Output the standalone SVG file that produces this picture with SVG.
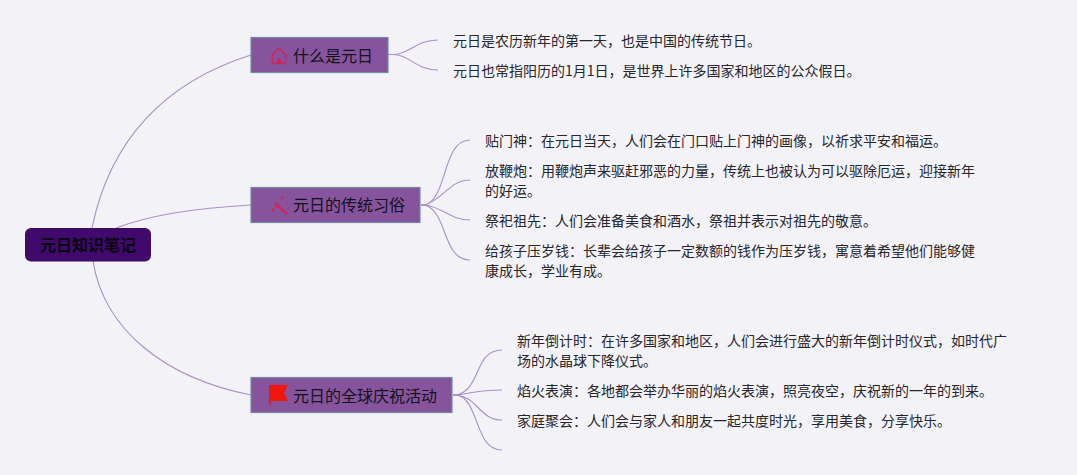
<svg xmlns="http://www.w3.org/2000/svg" width="1077" height="475" viewBox="0 0 1077 475">
<style>
text{font-family:"Noto Sans CJK SC","Liberation Sans",sans-serif;fill:#26262c}
.leaf{font-size:14px}
.branch{font-size:16px;fill:#14101c}
.root{font-size:16px;font-weight:700;fill:#0a0410}
.b{fill:#85549d;stroke:#6f8fa0;stroke-width:1.2}
.c{fill:none;stroke:#a98fca;stroke-width:1.1}
.ic{fill:#d5205a}
</style>
<rect width="1077" height="475" fill="#f3f2f6"/>
<g id="connectors">
<path class="c" d="M92 228C110 140 165 82 251 55"/>
<path class="c" d="M116 228C150 215 195 208 251 205"/>
<path class="c" d="M93 261C104 330 165 378 251 395"/>
<path class="c" d="M388 54.500H394C410 54 416 40 438 40"/>
<path class="c" d="M388 54.500H394C410 55 416 70 438 70"/>
<path class="c" d="M421 205H425C448 198 442 140 470 140"/>
<path class="c" d="M421 205H425C445 198 450 180 470 180"/>
<path class="c" d="M421 205H425C445 208 450 220 470 220"/>
<path class="c" d="M421 205H425C448 212 442 260 470 260"/>
<path class="c" d="M453 395H457C482 388 474 350 502 350"/>
<path class="c" d="M453 395H457C476 392 482 390 502 390"/>
<path class="c" d="M453 395H457C478 398 480 420 502 420"/>
<path class="c" d="M453 395H457C480 400 474 450 502 450"/>
</g>
<g id="root">
<rect x="25" y="228" width="126" height="33.500" rx="6" fill="#3f0a6b"/>
<text class="root" x="40" y="251">元日知识笔记</text>
</g>
<g id="branch-1">
<rect class="b" x="251" y="37.500" width="137" height="35"/>
<path d="M271 56.500L279 48L287 56.500M272.500 55V62.500Q272.500 63.500 274 63.500H284Q285.500 63.500 285.500 62.500V55" fill="none" stroke="#d5205a" stroke-width="1.300"/>
<path class="ic" d="M277 63.500V60L279 57.500L281 60V63.500Z"/>
<text class="branch" x="293" y="62">什么是元日</text>
</g>
<g id="branch-2">
<rect class="b" x="251" y="187.500" width="169" height="35"/>
<path d="M275 203L287 214" fill="none" stroke="#d5205a" stroke-width="2.200"/>
<circle class="ic" cx="282" cy="198" r="1.500"/><circle class="ic" cx="273" cy="210" r="1.700"/><circle class="ic" cx="276" cy="207" r="1"/><circle class="ic" cx="287" cy="204" r="0.800"/>
<text class="branch" x="293" y="211">元日的传统习俗</text>
</g>
<g id="branch-3">
<rect class="b" x="251" y="377.500" width="201" height="35"/>
<path d="M269 385H288L284 393L288 401H270.500V406L269 405Z" fill="#f0170f"/>
<text class="branch" x="293" y="402">元日的全球庆祝活动</text>
</g>
<g id="leaf-1-1"><text class="leaf" x="453" y="46">元日是农历新年的第一天&#xFF0C;也是中国的传统节日。</text></g>
<g id="leaf-1-2"><text class="leaf" x="453" y="76">元日也常指阳历的1月1日&#xFF0C;是世界上许多国家和地区的公众假日。</text></g>
<g id="leaf-2-1"><text class="leaf" x="485" y="146">贴门神&#xFF1A;在元日当天&#xFF0C;人们会在门口贴上门神的画像&#xFF0C;以祈求平安和福运。</text></g>
<g id="leaf-2-2"><text class="leaf" x="485" y="176">放鞭炮&#xFF1A;用鞭炮声来驱赶邪恶的力量&#xFF0C;传统上也被认为可以驱除厄运&#xFF0C;迎接新年</text><text class="leaf" x="485" y="196">的好运。</text></g>
<g id="leaf-2-3"><text class="leaf" x="485" y="226">祭祀祖先&#xFF1A;人们会准备美食和酒水&#xFF0C;祭祖并表示对祖先的敬意。</text></g>
<g id="leaf-2-4"><text class="leaf" x="485" y="256">给孩子压岁钱&#xFF1A;长辈会给孩子一定数额的钱作为压岁钱&#xFF0C;寓意着希望他们能够健</text><text class="leaf" x="485" y="276">康成长&#xFF0C;学业有成。</text></g>
<g id="leaf-3-1"><text class="leaf" x="517" y="346">新年倒计时&#xFF1A;在许多国家和地区&#xFF0C;人们会进行盛大的新年倒计时仪式&#xFF0C;如时代广</text><text class="leaf" x="517" y="366">场的水晶球下降仪式。</text></g>
<g id="leaf-3-2"><text class="leaf" x="517" y="396">焰火表演&#xFF1A;各地都会举办华丽的焰火表演&#xFF0C;照亮夜空&#xFF0C;庆祝新的一年的到来。</text></g>
<g id="leaf-3-3"><text class="leaf" x="517" y="426">家庭聚会&#xFF1A;人们会与家人和朋友一起共度时光&#xFF0C;享用美食&#xFF0C;分享快乐。</text></g>
</svg>
